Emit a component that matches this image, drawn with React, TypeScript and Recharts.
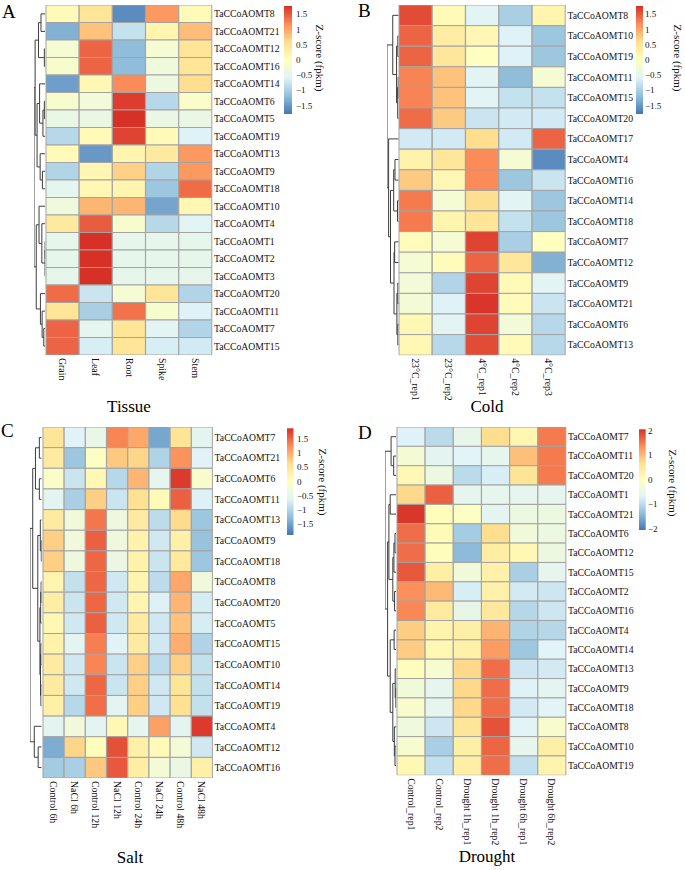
import React from 'react';
import { BarChart, Bar, Cell, XAxis, YAxis, ScatterChart, Scatter } from 'recharts';

const FONT = '"Liberation Serif", "Times New Roman", serif';
// pheatmap default: rev(brewer.pal(7, "RdYlBu")), low -> high
const PALETTE = ['#4575B4', '#91BFDB', '#E0F3F8', '#FFFFBF', '#FEE090', '#FC8D59', '#D73027'];

type Tree = number | [Tree, Tree, number];

// ---- A: Tissue ----
const tissueCols = ['Grain', 'Leaf', 'Root', 'Spike', 'Stem'];
const tissueGenes = [
  'TaCCoAOMT8', 'TaCCoAOMT21', 'TaCCoAOMT12', 'TaCCoAOMT16', 'TaCCoAOMT14', 'TaCCoAOMT6', 'TaCCoAOMT5',
  'TaCCoAOMT19', 'TaCCoAOMT13', 'TaCCoAOMT9', 'TaCCoAOMT18', 'TaCCoAOMT10', 'TaCCoAOMT4', 'TaCCoAOMT1',
  'TaCCoAOMT2', 'TaCCoAOMT3', 'TaCCoAOMT20', 'TaCCoAOMT11', 'TaCCoAOMT7', 'TaCCoAOMT15',
];
const tissueZ = [
  [0.1, 0.5, -1.6, 1.1, 0.1],
  [-1.3, 0.8, -0.8, 0.2, 0.85],
  [-0.2, 1.45, -1.2, -0.2, 0.5],
  [-0.15, 1.45, -1.2, -0.3, 0.5],
  [-1.45, 0.15, 1.2, -0.35, 0.6],
  [-0.15, -0.25, 1.7, -0.9, -0.1],
  [-0.4, -0.4, 1.78, -0.4, -0.4],
  [-0.9, 0.1, 1.65, 0.1, -0.6],
  [0.1, -1.5, 0.2, 0.4, 1.1],
  [-0.95, 0.15, 0.7, -0.95, 1.1],
  [-0.5, 0.15, 0.2, -1.1, 1.4],
  [-0.3, 0.9, 0.9, -1.4, 0.15],
  [0.4, 1.5, -0.15, -0.9, -0.55],
  [-0.45, 1.78, -0.45, -0.45, -0.45],
  [-0.45, 1.78, -0.45, -0.45, -0.45],
  [-0.45, 1.78, -0.45, -0.45, -0.45],
  [1.4, -0.75, -0.2, 0.5, -0.95],
  [0.5, -1.0, 1.35, -0.15, -0.6],
  [1.45, -0.5, 0.5, -0.55, -0.95],
  [1.45, -0.65, 0.5, -0.65, -0.7],
];
const tissueTree: Tree = [
  [
    [[0, 1, 1.5], [2, 3, 0.3], 2.4],
    [[4, [[5, 6, 0.3], 7, 0.8], 2.0], [8, [9, 10, 1.0], 1.8], 2.9],
    3.6,
  ],
  [
    [11, [12, [[13, 14, 0.02], 15, 0.05], 1.2], 2.2],
    [16, [17, [18, 19, 0.5], 1.1], 1.7],
    3.2,
  ],
  4.0,
];

// ---- B: Cold ----
const coldCols = ['23°C_rep1', '23°C_rep2', '4°C_rep1', '4°C_rep2', '4°C_rep3'];
const coldGenes = [
  'TaCCoAOMT8', 'TaCCoAOMT10', 'TaCCoAOMT19', 'TaCCoAOMT11', 'TaCCoAOMT15', 'TaCCoAOMT20', 'TaCCoAOMT17',
  'TaCCoAOMT4', 'TaCCoAOMT16', 'TaCCoAOMT14', 'TaCCoAOMT18', 'TaCCoAOMT7', 'TaCCoAOMT12', 'TaCCoAOMT9',
  'TaCCoAOMT21', 'TaCCoAOMT6', 'TaCCoAOMT13',
];
const coldZ = [
  [1.6, 0.1, -0.55, -1.0, 0.2],
  [1.45, 0.35, 0.15, -0.6, -1.1],
  [1.45, 0.45, 0.0, -0.6, -1.1],
  [1.25, 0.8, -0.55, -1.2, -0.2],
  [1.25, 0.8, -0.55, -0.8, -0.8],
  [1.4, 0.75, -0.75, -0.7, -0.7],
  [-0.7, -0.7, 0.6, -0.7, 1.45],
  [0.25, 0.45, 1.2, -0.2, -1.6],
  [0.75, 0.15, 1.2, -1.1, -0.75],
  [1.3, -0.2, 0.6, -0.55, -1.1],
  [1.3, 0.2, 0.5, -0.8, -1.1],
  [0.05, -0.2, 1.65, -1.0, 0.0],
  [-0.2, 0.05, 1.45, 0.45, -1.3],
  [-0.25, -0.95, 1.65, 0.1, -0.55],
  [-0.25, -0.6, 1.75, 0.05, -0.75],
  [0.15, -0.55, 1.65, -0.25, -0.9],
  [0.15, -0.9, 1.6, 0.1, -0.9],
];
const coldTree: Tree = [
  [0, [[1, 2, 0.3], [[3, 4, 0.2], 5, 0.35], 0.7], 1.9],
  [
    6,
    [
      [[7, 8, 1.2], [9, 10, 0.4], 1.6],
      [[11, 12, 1.3], [[13, 14, 0.3], [15, 16, 0.3], 0.6], 1.5],
      2.6,
    ],
    3.2,
  ],
  3.7,
];

// ---- C: Salt ----
const saltCols = ['Control 6h', 'NaCl 6h', 'Control 12h', 'NaCl 12h', 'Control 24h', 'NaCl 24h', 'Control 48h', 'NaCl 48h'];
const saltGenes = [
  'TaCCoAOMT7', 'TaCCoAOMT21', 'TaCCoAOMT6', 'TaCCoAOMT11', 'TaCCoAOMT13', 'TaCCoAOMT9', 'TaCCoAOMT18',
  'TaCCoAOMT8', 'TaCCoAOMT20', 'TaCCoAOMT5', 'TaCCoAOMT15', 'TaCCoAOMT10', 'TaCCoAOMT14', 'TaCCoAOMT19',
  'TaCCoAOMT4', 'TaCCoAOMT12', 'TaCCoAOMT16',
];
const saltZ = [
  [0.5, -0.6, -0.45, 1.3, 1.05, -1.45, 0.55, -0.55],
  [0.4, -1.15, -0.05, 0.8, 0.7, -1.0, 1.2, -0.6],
  [-0.1, -0.8, 0.15, -0.95, 0.95, -0.5, 1.8, -0.15],
  [-0.55, -1.05, 0.75, -0.8, 0.6, 0.1, 1.55, -0.65],
  [0.4, -0.3, 1.4, -0.35, 0.4, -0.9, 0.65, -1.15],
  [0.75, -0.3, 1.55, -0.35, 0.25, -0.75, 0.3, -1.2],
  [0.75, -0.35, 1.5, -0.4, 0.25, -0.8, 0.45, -1.15],
  [0.2, -0.85, 1.5, -0.75, 0.2, -0.9, 1.05, -0.3],
  [0.35, -0.8, 1.5, -0.75, 0.2, -0.65, 0.95, -0.7],
  [0.15, -0.75, 1.55, -0.75, 0.4, -0.75, 0.85, -0.7],
  [0.25, -0.55, 1.35, -0.6, 0.4, -0.75, 1.0, -1.0],
  [0.4, -0.75, 1.3, -0.8, 0.75, -0.9, 0.75, -0.85],
  [0.4, -0.75, 1.5, -0.8, 0.75, -0.75, 0.5, -0.85],
  [0.3, -0.95, 1.45, -0.55, 0.75, -0.75, 0.6, -0.85],
  [-0.55, -0.3, -0.55, 0.15, -0.5, 1.1, -0.55, 1.8],
  [-1.4, 0.7, 0.05, 1.65, 0.3, 0.1, -0.25, -0.75],
  [-1.1, -1.05, 0.8, 1.6, 0.35, -0.25, -0.4, 0.3],
];
const saltTree: Tree = [
  [
    [[0, 1, 0.6], [2, 3, 0.6], 1.6],
    [
      [4, [5, 6, 0.1], 0.35],
      [[[7, 8, 0.15], 9, 0.25], [[10, 11, 0.2], [12, 13, 0.2], 0.3], 0.45],
      1.0,
    ],
    2.3,
  ],
  [14, [15, 16, 0.9], 1.9],
  3.0,
];

// ---- D: Drought ----
const droughtCols = ['Control_rep1', 'Control_rep2', 'Drought 1h_rep1', 'Drought 1h_rep2', 'Drought 6h_rep1', 'Drought 6h_rep2'];
const droughtGenes = [
  'TaCCoAOMT7', 'TaCCoAOMT11', 'TaCCoAOMT20', 'TaCCoAOMT1', 'TaCCoAOMT21', 'TaCCoAOMT6', 'TaCCoAOMT12',
  'TaCCoAOMT15', 'TaCCoAOMT2', 'TaCCoAOMT16', 'TaCCoAOMT4', 'TaCCoAOMT14', 'TaCCoAOMT13', 'TaCCoAOMT9',
  'TaCCoAOMT18', 'TaCCoAOMT8', 'TaCCoAOMT10', 'TaCCoAOMT19',
];
const droughtZ = [
  [-0.7, -1.0, -0.5, 0.7, 0.2, 1.5],
  [-0.25, -0.6, -0.65, -0.55, 0.95, 1.5],
  [0.15, -0.4, -1.0, -0.75, 0.6, 1.5],
  [0.75, 1.7, -0.55, -0.55, -0.55, -0.55],
  [2.0, 0.05, -0.05, -0.6, -0.4, -0.4],
  [1.6, 0.1, -1.2, 0.7, -0.3, -0.4],
  [1.6, 0.05, -1.4, 0.4, 0.15, -0.4],
  [1.75, 0.35, -0.3, 0.3, -1.15, -0.55],
  [1.35, 1.0, -0.75, 0.3, -0.8, -0.85],
  [1.4, 0.45, -0.5, 0.5, -1.05, -0.85],
  [0.85, 0.25, 0.35, 1.05, -1.1, -1.05],
  [0.85, 0.15, 0.3, 1.25, -1.25, -0.65],
  [0.05, -0.2, 0.75, 1.6, -0.85, -0.8],
  [-0.3, -0.55, 0.75, 1.6, -0.7, -0.6],
  [-0.15, -0.55, 0.75, 1.6, -0.8, -0.65],
  [-0.35, -0.85, 0.55, 1.8, -0.65, -0.15],
  [-0.2, -1.15, 0.35, 1.65, -0.55, 0.35],
  [0.15, -0.95, 0.35, 1.6, -0.95, 0.25],
];
const droughtTree: Tree = [
  [0, [1, 2, 0.6], 1.2],
  [
    [[3, 4, 1.4], [[[5, 6, 0.3], 7, 0.55], [8, 9, 0.4], 0.8], 1.7],
    [[10, 11, 0.5], [[12, [13, 14, 0.1], 0.25], [15, [16, 17, 0.3], 0.45], 0.8], 1.4],
    2.0,
  ],
  2.6,
];

const ticks15 = [1.5, 1, 0.5, 0, -0.5, -1, -1.5];
const ticks2 = [2, 1, 0, -1, -2];

type Panel = {
  letter: string; title: string; cols: string[]; genes: string[]; z: number[][]; tree: Tree;
  left: number; top: number; cellW: number; cellH: number; dendroLeft: number;
  legX: number; legY: number; legW: number; legH: number; legMax: number; legTicks: number[];
  legLabelX: number; zX: number; zY: number;
  titleX: number; titleY: number; letterX: number; letterY: number;
};

const panels: Panel[] = [
  {
    letter: 'A', title: 'Tissue', cols: tissueCols, genes: tissueGenes, z: tissueZ, tree: tissueTree,
    left: 45.7, top: 5, cellW: 33.2, cellH: 17.5, dendroLeft: 33.5,
    legX: 284, legY: 6, legW: 8, legH: 108, legMax: 1.78, legTicks: ticks15, legLabelX: 296, zX: 320, zY: 58,
    titleX: 129, titleY: 411.5, letterX: 2, letterY: 18,
  },
  {
    letter: 'B', title: 'Cold', cols: coldCols, genes: coldGenes, z: coldZ, tree: coldTree,
    left: 399.3, top: 5, cellW: 33.3, cellH: 20.6, dendroLeft: 386.5,
    legX: 636, legY: 6, legW: 7, legH: 108, legMax: 1.78, legTicks: ticks15, legLabelX: 645, zX: 678, zY: 58,
    titleX: 487, titleY: 411.5, letterX: 358, letterY: 17,
  },
  {
    letter: 'C', title: 'Salt', cols: saltCols, genes: saltGenes, z: saltZ, tree: saltTree,
    left: 42.7, top: 427.3, cellW: 21.2, cellH: 20.65, dendroLeft: 30,
    legX: 287, legY: 428.3, legW: 6.5, legH: 106.7, legMax: 1.87, legTicks: ticks15, legLabelX: 297, zX: 323, zY: 482,
    titleX: 130, titleY: 863, letterX: 1, letterY: 437,
  },
  {
    letter: 'D', title: 'Drought', cols: droughtCols, genes: droughtGenes, z: droughtZ, tree: droughtTree,
    left: 397.3, top: 427.3, cellW: 28.17, cellH: 19.35, dendroLeft: 385,
    legX: 639, legY: 429.3, legW: 6.7, legH: 100.7, legMax: 2.05, legTicks: ticks2, legLabelX: 648, zX: 673, zY: 483,
    titleX: 487, titleY: 862, letterX: 358, letterY: 439,
  },
];

function hexToRgb(h: string) {
  return [parseInt(h.slice(1, 3), 16), parseInt(h.slice(3, 5), 16), parseInt(h.slice(5, 7), 16)];
}

function colorFor(v: number, max: number) {
  let t = (v + max) / (2 * max);
  t = Math.max(0, Math.min(1, t)) * (PALETTE.length - 1);
  const i = Math.min(Math.floor(t), PALETTE.length - 2);
  const f = t - i;
  const a = hexToRgb(PALETTE[i]);
  const b = hexToRgb(PALETTE[i + 1]);
  const c = a.map((x, k) => Math.round(x + (b[k] - x) * f));
  return `rgb(${c[0]},${c[1]},${c[2]})`;
}

function buildSegments(node: Tree, segs: { x: number; y: number }[][]): { y: number; h: number } {
  if (typeof node === 'number') return { y: node + 0.5, h: 0 };
  const a = buildSegments(node[0], segs);
  const b = buildSegments(node[1], segs);
  const h = node[2];
  segs.push([{ x: a.h, y: a.y }, { x: h, y: a.y }, { x: h, y: b.y }, { x: b.h, y: b.y }]);
  return { y: (a.y + b.y) / 2, h };
}

const fmt = (v: number) => (v < 0 ? '\u2212' + String(-v) : String(v));

function ColTick(props: any) {
  const { x, y, payload } = props;
  return (
    <text
      transform={`translate(${x},${y + 3}) rotate(90)`}
      textAnchor="start"
      dominantBaseline="central"
      fontSize={9.8}
      fontFamily={FONT}
      fill="#111"
    >
      {payload.value}
    </text>
  );
}

const noDot = () => <g />;

function Heatmap({ p }: { p: Panel }) {
  const nR = p.genes.length;
  const plotW = p.cols.length * p.cellW;
  const plotH = nR * p.cellH;
  const axisW = 80;
  const axisH = 75;
  const data = p.cols.map((c) => {
    const d: any = { col: c };
    p.genes.forEach((_, i) => (d['r' + i] = 1));
    return d;
  });
  return (
    <div style={{ position: 'absolute', left: p.left - 1, top: p.top - 1 }}>
      <BarChart
        width={1 + plotW + axisW}
        height={1 + plotH + axisH}
        data={data}
        margin={{ top: 1, left: 1, right: 0, bottom: 0 }}
        barCategoryGap={0}
        barGap={0}
      >
        <XAxis dataKey="col" height={axisH} axisLine={false} tickLine={false} tickSize={0} tickMargin={0} interval={0} tick={<ColTick />} />
        <YAxis
          orientation="right"
          type="number"
          domain={[0, nR]}
          reversed
          allowDataOverflow
          width={axisW}
          ticks={p.genes.map((_, i) => i + 0.5)}
          interval={0}
          axisLine={false}
          tickLine={false}
          tickSize={0}
          tickMargin={2}
          tickFormatter={(v: number) => p.genes[Math.floor(v)]}
          tick={{ fontSize: 9.7, fill: '#111', fontFamily: FONT }}
        />
        {p.genes.map((g, i) => (
          <Bar key={g} dataKey={'r' + i} stackId="s" isAnimationActive={false} stroke="#a3a3a3" strokeWidth={1}>
            {p.cols.map((c, j) => (
              <Cell key={c} fill={colorFor(p.z[i][j], p.legMax)} />
            ))}
          </Bar>
        ))}
      </BarChart>
    </div>
  );
}

function Dendro({ p }: { p: Panel }) {
  const segs: { x: number; y: number }[][] = [];
  const root = buildSegments(p.tree, segs);
  const nR = p.genes.length;
  const plotH = nR * p.cellH;
  const w = p.left - p.dendroLeft;
  return (
    <div style={{ position: 'absolute', left: p.dendroLeft - 1, top: p.top - 1 }}>
      <ScatterChart width={w + 1} height={plotH + 2} margin={{ top: 1, left: 1, right: 1, bottom: 1 }}>
        <XAxis type="number" dataKey="x" domain={[0, root.h]} reversed hide allowDataOverflow />
        <YAxis type="number" dataKey="y" domain={[0, nR]} reversed hide allowDataOverflow />
        {segs.map((s, k) => (
          <Scatter key={k} data={s} line={{ stroke: '#3c3c3c', strokeWidth: 1 }} shape={noDot} isAnimationActive={false} />
        ))}
      </ScatterChart>
    </div>
  );
}

function Decorations() {
  return (
    <svg width={685} height={870} style={{ position: 'absolute', left: 0, top: 0, pointerEvents: 'none' }} fontFamily={FONT}>
      <defs>
        {panels.map((p) => (
          <linearGradient key={p.letter} id={'grad' + p.letter} x1="0" y1="0" x2="0" y2="1">
            {PALETTE.slice().reverse().map((c, i) => (
              <stop key={i} offset={i / (PALETTE.length - 1)} stopColor={c} />
            ))}
          </linearGradient>
        ))}
      </defs>
      {panels.map((p) => {
        const yOf = (v: number) => p.legY + ((p.legMax - v) / (2 * p.legMax)) * p.legH;
        return (
          <g key={p.letter}>
            <text x={p.letterX} y={p.letterY} fontSize={19} fill="#000">{p.letter}</text>
            <text x={p.titleX} y={p.titleY} fontSize={17} textAnchor="middle" fill="#000">{p.title}</text>
            <rect x={p.legX} y={p.legY} width={p.legW} height={p.legH} fill={`url(#grad${p.letter})`} />
            {p.legTicks.map((t) => (
              <text key={t} x={p.legLabelX} y={yOf(t)} fontSize={9} dominantBaseline="central" fill="#111">
                {fmt(t)}
              </text>
            ))}
            <text
              transform={`translate(${p.zX},${p.zY}) rotate(90)`}
              textAnchor="middle"
              dominantBaseline="central"
              fontSize={11}
              fill="#111"
            >
              Z-score (fpkm)
            </text>
          </g>
        );
      })}
    </svg>
  );
}

export default function App() {
  return (
    <div style={{ position: 'absolute', left: 0, top: 0, width: 685, height: 870, background: '#fff', fontFamily: FONT }}>
      {panels.map((p) => (
        <React.Fragment key={p.letter}>
          <Dendro p={p} />
          <Heatmap p={p} />
        </React.Fragment>
      ))}
      <Decorations />
    </div>
  );
}
